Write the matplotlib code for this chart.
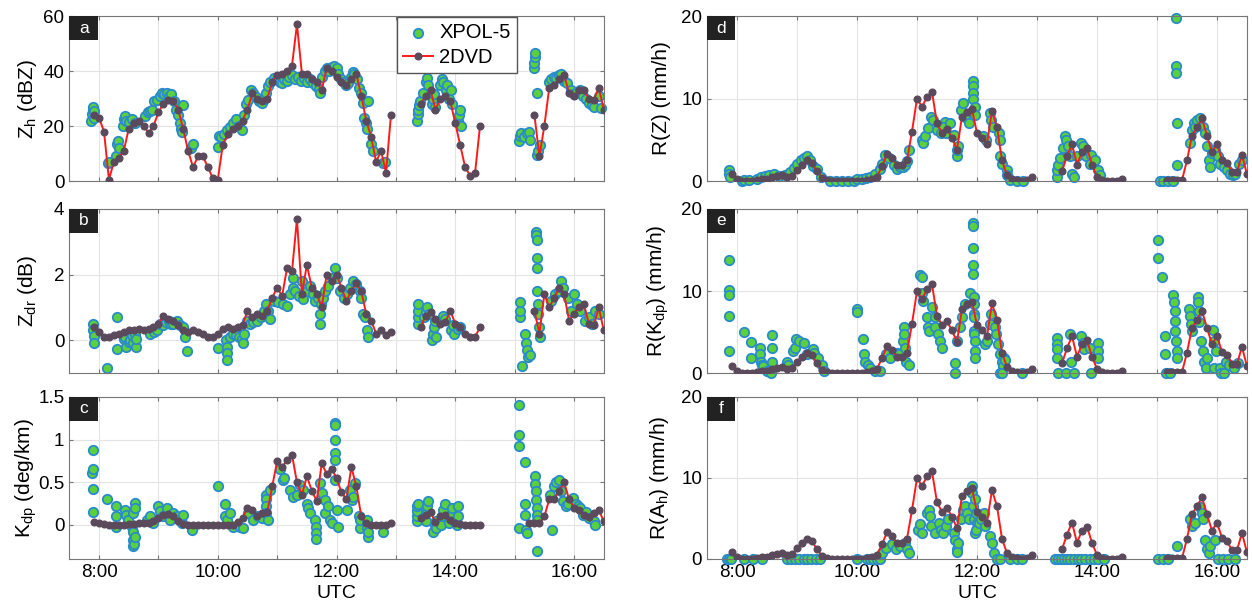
import numpy as np
import matplotlib
matplotlib.use('Agg')
import matplotlib.pyplot as plt
from matplotlib.patches import Rectangle

plt.rcParams['font.family'] = ['Liberation Sans', 'DejaVu Sans']
plt.rcParams['mathtext.default'] = 'regular'

# 2DVD samples, minutes after midnight (three rain periods)
dvd_min = np.concatenate([np.arange(475, 776, 5), np.arange(805, 866, 5), np.arange(910, 991, 5)])

dvd_zh = [24, 23, 18, 0.5, 7, 8.5, 11, 19, 21, 22, 20, 17.5, 20, 25,
          28, 29.5, 29, 26, 19, 11, 5, 9, 9, 5, 1, 0.5,
          13, 17, 19, 20, 22, 26, 32, 30, 29, 30, 36, 38.5,
          39, 40, 42, 57, 39, 39, 37, 36, 33, 41, 40, 38,
          36, 35, 37, 39, 31, 22, 16, 7, 11, 3, 24,
          28, 31, 33, 26, 30, 31, 29, 21, 13, 5, 2, 3, 20,
          None, None, 24, 9, 20, 34, 35, 37, 38.5, 32, 31, 33, 33, 30, 29.5, 34, 26]

dvd_zdr = [0.4, 0.25, 0.1, 0.1, 0.15, 0.2, 0.25, 0.3, 0.3, 0.35, 0.3, 0.35, 0.4, 0.5,
           0.75, 0.65, 0.6, 0.45, 0.3, 0.25, 0.3, 0.25, 0.2, 0.1, 0.1, 0.2,
           0.35, 0.4, 0.35, 0.4, 0.45, 0.9, 0.7, 0.8, 0.75, 0.9, 1.3, 1.6,
           1.35, 2.2, 2.1, 3.7, 1.4, 2.3, 1.6, 1.4, 1.0, 2.0, 1.8, 2.0,
           1.6, 1.2, 1.5, 1.75, 1.5, 0.8, 0.6, 0.2, 0.3, 0.15, 0.25,
           0.4, 0.75, 0.85, 0.65, 0.5, 0.55, 0.9, 0.5, 0.4, 0.2, 0.1, 0.1, 0.4,
           None, None, 0.9, 0.2, 1.4, 1.0, 1.3, 1.6, 1.4, 0.6, 0.8, 1.0, 1.1, 0.5, 0.45, 1.0, 0.3]

dvd_kdp = [0.03, 0.02, 0.01, 0.0, 0.0, 0.0, 0.0, 0.01, 0.01, 0.02, 0.02, 0.02, 0.04, 0.08,
           0.12, 0.13, 0.1, 0.05, 0.01, 0.0, 0.0, 0.0, 0.0, 0.0, 0.0, 0.0,
           0.0, 0.0, 0.0, 0.03, 0.08, 0.2, 0.17, 0.1, 0.14, 0.15, 0.45, 0.75,
           0.68, 0.76, 0.82, 0.5, 0.35, 0.57, 0.4, 0.28, 0.72, 0.6, 0.66, 0.55,
           0.38, 0.3, 0.68, 0.45, 0.1, 0.02, 0.0, 0.0, 0.0, 0.0, 0.02,
           0.08, 0.12, 0.15, 0.03, 0.1, 0.12, 0.06, 0.02, 0.01, 0.0, 0.0, 0.0, 0.0,
           None, 0.02, 0.02, 0.02, 0.1, 0.3, 0.3, 0.4, 0.5, 0.3, 0.2, 0.18, 0.12, 0.09, 0.14, 0.18, 0.04]

# 2DVD rain rate, same curve in panels d, e, f
dvd_rain = [0.9, 0.3, 0.0, 0.0, 0.0, 0.1, 0.2, 0.3, 0.5, 0.6, 0.7, 0.5, 0.6, 1.3,
            2.0, 2.5, 2.2, 1.2, 0.4, 0.1, 0.0, 0.0, 0.0, 0.0, 0.0, 0.0,
            0.05, 0.1, 0.3, 0.5, 1.8, 3.3, 2.8, 2.0, 2.0, 2.5, 6.0, 10.0,
            9.0, 10.2, 10.8, 7.0, 5.8, 6.3, 5.2, 3.8, 7.8, 8.4, 8.7, 5.8,
            5.2, 4.5, 8.5, 6.5, 2.5, 0.7, 0.3, 0.1, 0.0, 0.1, 0.5,
            1.2, 3.0, 4.5, 2.0, 3.5, 4.0, 2.0, 0.5, 0.1, 0.0, 0.0, 0.0, 0.2,
            0.1, 0.1, 0.1, 0.1, 2.5, 5.5, 6.5, 7.6, 5.5, 3.5, 4.5, 2.6, 2.2, 1.1, 1.1, 3.2, 0.8]

# XPOL-5 (time in hours, value)
xpol_zh = [(7.87, 22), (7.88, 24.5), (7.89, 26), (7.90, 27), (7.91, 25.5), (7.92, 23),
           (8.15, 6.5), (8.17, 7), (8.29, 9), (8.31, 13.5), (8.32, 14.5), (8.34, 12),
           (8.40, 20), (8.42, 22.5), (8.44, 23.5), (8.46, 22), (8.50, 21.5), (8.55, 22.5), (8.60, 21),
           (8.78, 23.5), (8.82, 25), (8.86, 25.5), (8.90, 26), (8.93, 29), (8.97, 29.5),
           (9.02, 31), (9.06, 32), (9.10, 31.5), (9.14, 32), (9.18, 31), (9.22, 31.5), (9.26, 29),
           (9.30, 26), (9.33, 24), (9.36, 21), (9.38, 19), (9.40, 18), (9.42, 27.5), (9.55, 12), (9.58, 13.5),
           (10.00, 12.5), (10.02, 16.5), (10.06, 16), (10.10, 17), (10.15, 18.5), (10.20, 19.5), (10.25, 21),
           (10.30, 22.5), (10.35, 20), (10.40, 18.5), (10.44, 24), (10.48, 28), (10.51, 29.5),
           (10.56, 33), (10.60, 32), (10.65, 30.5), (10.70, 29), (10.74, 28.5), (10.78, 30), (10.82, 32),
           (10.85, 34.5), (10.88, 36), (10.95, 37.5), (11.00, 37), (11.05, 36), (11.08, 35.5), (11.12, 37),
           (11.16, 36.5), (11.20, 38), (11.25, 38.5), (11.30, 37), (11.35, 38), (11.40, 36.5), (11.45, 37.5),
           (11.50, 36), (11.55, 37), (11.60, 35.5), (11.65, 34.5), (11.70, 33.5), (11.72, 32),
           (11.76, 38), (11.80, 40), (11.84, 41), (11.88, 40), (11.92, 41.5), (11.96, 42), (12.00, 41), (12.03, 39),
           (12.08, 37), (12.12, 36), (12.16, 35), (12.20, 35.5), (12.24, 38), (12.27, 39.5), (12.30, 39),
           (12.34, 37), (12.38, 34), (12.42, 32), (12.45, 28.5), (12.47, 23), (12.49, 21), (12.51, 19),
           (12.53, 29), (12.58, 13.5), (12.62, 11), (12.78, 6.5), (12.82, 7),
           (13.36, 22), (13.37, 24.5), (13.38, 26), (13.39, 27.5), (13.40, 29),
           (13.46, 32), (13.50, 36), (13.52, 37.5), (13.54, 35), (13.60, 28), (13.62, 30), (13.64, 31.5), (13.66, 27),
           (13.74, 35), (13.78, 37), (13.80, 36), (13.84, 33), (13.86, 35), (13.90, 30), (13.92, 33), (13.94, 28),
           (14.04, 22), (14.06, 24), (14.08, 26), (14.10, 20),
           (15.08, 14.5), (15.09, 16.5), (15.10, 17.5), (15.16, 16), (15.20, 17.5), (15.24, 18), (15.26, 15),
           (15.33, 41), (15.33, 43), (15.34, 45), (15.34, 46.5), (15.38, 32), (15.38, 9.5), (15.40, 11), (15.42, 13),
           (15.58, 36), (15.62, 37), (15.66, 38), (15.70, 37.5), (15.74, 38.5), (15.78, 39), (15.83, 36.5), (15.88, 35.5),
           (15.95, 33), (16.00, 31.5), (16.05, 32.5), (16.10, 33), (16.15, 31), (16.20, 30), (16.25, 28.5),
           (16.30, 27.5), (16.34, 27), (16.42, 31), (16.45, 26.5)]

xpol_zdr = [(7.90, 0.5), (7.90, 0.3), (7.91, 0.13), (7.91, -0.1), (8.14, -0.84), (8.30, 0.7), (8.31, -0.27),
            (8.42, 0.05), (8.44, 0.1), (8.46, -0.2), (8.50, -0.05), (8.52, 0.0), (8.55, 0.15), (8.58, -0.1),
            (8.60, 0.2), (8.62, -0.2), (8.63, 0.05),
            (8.86, 0.2), (8.92, 0.25), (8.97, 0.3), (9.03, 0.5), (9.08, 0.45), (9.12, 0.55), (9.17, 0.6),
            (9.21, 0.5), (9.25, 0.5), (9.31, 0.6), (9.36, 0.45), (9.42, 0.4), (9.45, 0.1), (9.48, -0.33),
            (10.01, -0.25), (10.13, 0.0), (10.15, -0.2), (10.15, -0.4), (10.16, -0.6), (10.21, 0.1), (10.26, 0.2),
            (10.30, 0.15), (10.35, 0.1), (10.40, 0.05), (10.43, -0.1), (10.44, 0.2),
            (10.49, 0.6), (10.54, 0.5), (10.60, 0.55), (10.66, 0.6), (10.72, 0.7), (10.78, 0.9), (10.82, 1.1),
            (10.85, 0.9), (10.88, 0.65), (10.95, 1.2), (11.02, 1.15), (11.10, 1.1), (11.16, 1.05), (11.22, 1.4),
            (11.26, 1.9), (11.27, 1.6), (11.30, 1.5), (11.36, 1.35), (11.41, 1.8), (11.44, 1.25), (11.50, 1.5),
            (11.55, 1.65), (11.60, 1.4), (11.64, 1.2), (11.68, 1.3), (11.72, 0.5), (11.72, 0.8), (11.73, 1.1),
            (11.77, 1.3), (11.80, 1.5), (11.86, 1.65), (11.92, 1.9), (11.97, 2.2), (12.00, 1.9), (12.06, 1.5),
            (12.12, 1.3), (12.18, 1.4), (12.23, 1.6), (12.28, 1.8), (12.33, 1.7), (12.39, 1.5), (12.42, 1.3),
            (12.45, 0.8), (12.48, 0.7), (12.51, 0.3), (12.53, 0.1),
            (13.37, 0.5), (13.37, 0.7), (13.38, 0.9), (13.38, 1.1), (13.48, 0.7), (13.50, 0.85), (13.52, 1.0),
            (13.55, 0.8), (13.61, 0.0), (13.62, 0.2), (13.64, 0.4), (13.66, 0.6), (13.68, 0.1),
            (13.76, 0.6), (13.79, 0.75), (13.82, 0.65), (13.92, 0.3), (13.96, 0.45), (13.98, 0.2), (14.05, 0.35), (14.08, 0.4),
            (15.09, 0.7), (15.09, 0.9), (15.09, 1.15), (15.12, -0.8), (15.17, 0.2), (15.19, -0.1), (15.21, -0.3),
            (15.23, -0.5), (15.26, -0.45), (15.36, 3.3), (15.36, 3.2), (15.37, 3.05), (15.37, 2.5), (15.38, 2.2),
            (15.38, 1.5), (15.39, 1.1), (15.40, 0.8), (15.41, 0.4), (15.42, 0.1),
            (15.62, 1.2), (15.68, 1.4), (15.74, 1.5), (15.78, 1.8), (15.82, 1.6), (15.90, 1.3), (15.95, 0.9),
            (16.00, 1.4), (16.05, 1.1), (16.10, 0.9), (16.18, 0.6), (16.25, 0.7), (16.30, 0.5), (16.35, 0.9), (16.42, 0.8)]

xpol_kdp = [(7.88, 0.61), (7.90, 0.65), (7.90, 0.88), (7.90, 0.42), (7.90, 0.15), (8.14, 0.3),
            (8.29, 0.22), (8.29, 0.1), (8.29, -0.02), (8.44, 0.18), (8.46, 0.12), (8.49, 0.06), (8.55, -0.02),
            (8.58, 0.14), (8.61, 0.26), (8.61, 0.2), (8.58, -0.08), (8.58, -0.18), (8.58, -0.25), (8.59, -0.22),
            (8.61, -0.14), (8.80, 0.06), (8.86, 0.1), (8.91, 0.02), (9.00, 0.22), (9.03, 0.16), (9.08, 0.1),
            (9.14, 0.2), (9.20, 0.06), (9.25, 0.14), (9.31, 0.1), (9.39, 0.02), (9.42, 0.12), (9.56, -0.06),
            (10.01, 0.46), (10.12, 0.25), (10.12, 0.1), (10.15, 0.06), (10.21, 0.14), (10.26, -0.02),
            (10.37, -0.02), (10.43, -0.04), (10.51, 0.14), (10.60, 0.06), (10.68, 0.1), (10.74, 0.08),
            (10.82, 0.35), (10.82, 0.3), (10.82, 0.22), (10.82, 0.14), (10.85, 0.06), (10.88, 0.41),
            (11.05, 0.65), (11.10, 0.53), (11.12, 0.55), (11.22, 0.41), (11.27, 0.33), (11.33, 0.35),
            (11.38, 0.47), (11.44, 0.41), (11.50, 0.25), (11.52, 0.2), (11.55, 0.14), (11.64, 0.06),
            (11.66, -0.02), (11.66, -0.1), (11.66, -0.16), (11.72, 0.49), (11.75, 0.37), (11.80, 0.29),
            (11.80, 0.14), (11.86, 0.22), (11.89, 0.06), (11.92, 0.02), (11.97, 1.19), (11.97, 1.17),
            (11.97, 1.0), (11.97, 0.84), (11.97, 0.76), (11.98, 0.53), (12.00, 0.18), (12.03, -0.02),
            (12.17, 0.18), (12.23, 0.41), (12.26, 0.29), (12.28, 0.33), (12.31, 0.49), (12.37, 0.1),
            (12.39, -0.04), (12.40, 0.06), (12.51, 0.06), (12.51, -0.04), (12.53, -0.14), (12.53, -0.08), (12.79, -0.08),
            (13.35, 0.04), (13.35, 0.1), (13.36, 0.16), (13.36, 0.22), (13.37, 0.25), (13.50, 0.05), (13.52, 0.15),
            (13.53, 0.22), (13.54, 0.28), (13.63, -0.08), (13.65, 0.0), (13.67, 0.05), (13.68, -0.04),
            (13.76, 0.0), (13.78, 0.1), (13.80, 0.18), (13.82, 0.25), (13.90, 0.02), (13.92, 0.1), (13.95, 0.2),
            (13.97, 0.05), (14.03, 0.0), (14.04, 0.1), (14.05, 0.22),
            (15.07, 1.4), (15.08, 1.05), (15.08, 0.92), (15.08, -0.04), (15.17, 0.74), (15.18, 0.25), (15.18, 0.12),
            (15.19, -0.06), (15.21, -0.1), (15.35, 0.57), (15.35, 0.48), (15.36, 0.4), (15.36, 0.29), (15.37, 0.2),
            (15.37, 0.12), (15.38, 0.06), (15.38, -0.31), (15.63, -0.06), (15.60, 0.35), (15.66, 0.45),
            (15.70, 0.5), (15.74, 0.53), (15.78, 0.4), (15.82, 0.28), (15.86, 0.22), (15.90, 0.25),
            (15.99, 0.31), (16.03, 0.25), (16.06, 0.22), (16.10, 0.2), (16.15, 0.12), (16.20, 0.15),
            (16.26, 0.08), (16.33, 0.05), (16.35, 0.0)]

xpol_rz = [(7.86, 1.3), (7.87, 0.9), (7.88, 0.5), (8.08, 0.0), (8.12, 0.1), (8.20, 0.1), (8.33, 0.3),
           (8.40, 0.5), (8.47, 0.6), (8.54, 0.7), (8.61, 0.9), (8.70, 0.6), (8.80, 0.7), (8.88, 1.1),
           (8.95, 1.6), (9.00, 2.1), (9.06, 2.5), (9.11, 2.8), (9.16, 3.0), (9.22, 2.5), (9.27, 1.8),
           (9.33, 1.5), (9.40, 0.5), (9.55, 0.0), (9.65, 0.0), (9.75, 0.0), (9.85, 0.0), (9.95, 0.0),
           (10.00, 0.3), (10.08, 0.3), (10.15, 0.4), (10.22, 0.5), (10.30, 0.9), (10.38, 1.5), (10.41, 2.1),
           (10.47, 3.2), (10.53, 2.8), (10.61, 1.9), (10.66, 1.5), (10.72, 1.7), (10.77, 1.7), (10.80, 1.9),
           (10.83, 2.4), (10.86, 3.8), (11.08, 5.0), (11.10, 4.6), (11.13, 5.4), (11.19, 6.4), (11.24, 7.8),
           (11.27, 7.4), (11.33, 6.2), (11.40, 5.8), (11.47, 7.2), (11.44, 6.6), (11.49, 5.8), (11.55, 7.0),
           (11.61, 5.6), (11.66, 3.0), (11.66, 3.8), (11.69, 4.2), (11.74, 8.6), (11.77, 9.4), (11.80, 7.8),
           (11.86, 7.0), (11.91, 8.4), (11.94, 12.1), (11.94, 11.5), (11.94, 10.7), (11.94, 9.9), (11.97, 9.0),
           (11.97, 8.0), (12.10, 5.5), (12.15, 5.0), (12.22, 8.2), (12.24, 7.4), (12.27, 6.6), (12.36, 5.8),
           (12.38, 5.0), (12.38, 3.0), (12.41, 2.1), (12.50, 1.3), (12.50, 0.7), (12.55, 0.1), (12.66, 0.0), (12.77, 0.0),
           (13.33, 0.5), (13.33, 1.3), (13.35, 1.9), (13.38, 2.8), (13.44, 4.0), (13.47, 5.4), (13.49, 5.0),
           (13.52, 4.2), (13.55, 3.0), (13.58, 0.9), (13.61, 0.5), (13.66, 3.0), (13.74, 4.6), (13.77, 4.2),
           (13.82, 3.0), (13.88, 2.1), (13.90, 3.2), (13.96, 2.5), (14.02, 1.3), (14.05, 0.7),
           (15.05, 0.0), (15.10, 0.0), (15.19, 0.0), (15.27, 0.0), (15.32, 19.8), (15.32, 13.9), (15.32, 13.1),
           (15.33, 7.0), (15.34, 1.9), (15.55, 4.6), (15.58, 6.2), (15.61, 7.0), (15.63, 6.6), (15.66, 7.4),
           (15.72, 7.6), (15.77, 6.6), (15.80, 5.8), (15.83, 4.2), (15.86, 2.5), (15.88, 1.7), (15.91, 3.4),
           (15.97, 3.8), (16.02, 3.0), (16.05, 2.1), (16.11, 1.7), (16.16, 1.3), (16.22, 0.9), (16.27, 0.7),
           (16.30, 0.9), (16.36, 2.1), (16.41, 2.5)]

xpol_rkdp = [(7.86, 13.8), (7.86, 10.1), (7.86, 9.5), (7.87, 7.0), (7.87, 2.7), (8.11, 5.0), (8.24, 3.8),
             (8.24, 1.85), (8.38, 3.0), (8.38, 2.3), (8.40, 1.4), (8.41, 1.0), (8.43, 0.8), (8.50, 0.2),
             (8.58, 4.6), (8.58, 3.1), (8.58, 1.4), (8.57, 0.0), (8.83, 1.4), (8.85, 1.0), (8.94, 2.7),
             (8.96, 3.1), (8.99, 4.2), (9.04, 3.9), (9.11, 3.7), (9.16, 2.3), (9.27, 2.9), (9.29, 2.5),
             (9.35, 1.85), (9.41, 1.0), (9.45, 0.2), (10.00, 7.8), (10.00, 7.4), (10.10, 4.2), (10.11, 2.3),
             (10.13, 1.4), (10.19, 1.0), (10.22, 0.6), (10.30, 0.2), (10.38, 0.2), (10.49, 2.3), (10.55, 1.85),
             (10.66, 2.5), (10.70, 2.3), (10.77, 3.9), (10.78, 5.6), (10.79, 4.7), (10.80, 3.1), (10.82, 1.4),
             (10.86, 1.0), (11.05, 11.9), (11.08, 11.7), (11.09, 9.7), (11.10, 8.8), (11.16, 6.8), (11.18, 5.6),
             (11.20, 5.1), (11.25, 8.0), (11.30, 6.8), (11.30, 5.6), (11.35, 4.7), (11.38, 3.9), (11.41, 3.1),
             (11.63, 1.2), (11.63, 0.0), (11.66, 3.9), (11.72, 5.6), (11.75, 6.8), (11.80, 8.4), (11.88, 9.7),
             (11.94, 18.3), (11.94, 17.9), (11.94, 15.2), (11.94, 13.2), (11.94, 12.1), (11.95, 9.3), (11.95, 8.4),
             (11.95, 7.2), (11.95, 6.8), (11.95, 5.1), (11.95, 4.7), (11.96, 3.9), (11.96, 2.7), (11.97, 1.85),
             (12.13, 3.5), (12.16, 3.9), (12.22, 6.0), (12.24, 7.2), (12.30, 5.6), (12.32, 4.7), (12.35, 3.5),
             (12.38, 2.3), (12.41, 1.4), (12.44, 0.8), (12.45, 1.85), (12.47, 1.6), (12.38, 0.0), (12.42, 0.0), (12.75, 0.0),
             (13.33, 4.3), (13.33, 3.5), (13.34, 2.9), (13.34, 1.85), (13.35, 0.0), (13.49, 0.0), (13.55, 4.7),
             (13.57, 1.4), (13.61, 0.0), (13.74, 4.5), (13.76, 3.7), (13.78, 2.9), (13.88, 3.1), (13.90, 0.0),
             (14.02, 3.7), (14.02, 2.7), (14.02, 1.85),
             (15.02, 16.2), (15.02, 14.0), (15.08, 11.7), (15.13, 4.5), (15.13, 2.3), (15.15, 0.0), (15.22, 0.0),
             (15.27, 9.5), (15.29, 8.6), (15.30, 7.6), (15.30, 6.4), (15.30, 5.1), (15.31, 3.9), (15.33, 2.7),
             (15.33, 1.85), (15.53, 7.8), (15.55, 7.0), (15.57, 6.0), (15.59, 5.1), (15.68, 9.3), (15.68, 8.6),
             (15.70, 7.6), (15.70, 6.2), (15.74, 3.9), (15.76, 2.7), (15.79, 1.4), (15.81, 0.6), (15.84, 1.85),
             (15.93, 5.3), (15.95, 3.9), (15.95, 0.6), (15.98, 2.7), (16.05, 0.6), (16.07, 0.0), (16.11, 0.0),
             (16.15, 1.4), (16.20, 1.0), (16.28, 0.6), (16.35, 1.2)]

xpol_rah = [(7.83, 0.0), (7.86, 0.0), (7.90, 0.0), (8.11, 0.0), (8.27, 0.0), (8.41, 0.0), (8.83, 0.0),
            (8.90, 0.0), (8.97, 0.0), (9.04, 0.0), (9.11, 0.0), (9.17, 0.0), (9.24, 0.0), (9.31, 0.0), (9.38, 0.0),
            (10.00, 0.0), (10.16, 0.0), (10.22, 0.0), (10.27, 0.0), (10.33, 0.0), (10.38, 0.0), (10.41, 0.75),
            (10.49, 1.4), (10.58, 1.8), (10.65, 1.2), (10.72, 1.6), (10.80, 2.0), (10.83, 1.2), (10.86, 0.75),
            (11.02, 3.6), (11.05, 4.3), (11.08, 3.2), (11.16, 5.7), (11.20, 6.1), (11.22, 5.3), (11.24, 4.1),
            (11.30, 3.2), (11.36, 4.5), (11.40, 3.6), (11.44, 3.2), (11.49, 4.1), (11.52, 4.9), (11.61, 3.2),
            (11.63, 2.4), (11.66, 1.2), (11.66, 0.8), (11.69, 2.0), (11.74, 4.9), (11.77, 6.1), (11.80, 6.6),
            (11.83, 5.7), (11.86, 4.9), (11.91, 8.2), (11.92, 9.0), (11.93, 6.6), (11.95, 4.9), (11.97, 3.2),
            (11.96, 7.4), (11.98, 5.7), (12.00, 4.5), (11.99, 3.6), (12.03, 4.5), (12.06, 4.9), (12.11, 5.7),
            (12.14, 4.1), (12.22, 2.8), (12.25, 2.0), (12.28, 0.75), (12.33, 0.0), (12.38, 0.0), (12.55, 0.0),
            (12.66, 0.0), (12.75, 0.0),
            (13.30, 0.0), (13.35, 0.0), (13.40, 0.0), (13.45, 0.0), (13.50, 0.0), (13.55, 0.0), (13.62, 0.0),
            (13.68, 0.0), (13.74, 0.0), (13.80, 0.0), (13.88, 0.0), (13.95, 0.0), (14.02, 0.0), (14.11, 0.0),
            (15.02, 0.0), (15.10, 0.0), (15.19, 0.0), (15.33, 1.6), (15.55, 4.9), (15.58, 4.1), (15.63, 4.5),
            (15.72, 6.4), (15.75, 5.7), (15.77, 4.9), (15.80, 2.4), (15.83, 1.2), (15.86, 0.75), (15.88, 1.6),
            (15.97, 2.4), (16.02, 0.0), (16.10, 0.0), (16.19, 0.0), (16.30, 0.0)]

hour_ticks = [8, 9, 10, 11, 12, 13, 14, 15, 16]
hour_labels = ['8:00', '', '10:00', '', '12:00', '', '14:00', '', '16:00']

panels = [
    ('a', xpol_zh, dvd_zh, r'Z$_{h}$ (dBZ)', (0, 60), [0, 20, 40, 60], ['0', '20', '40', '60']),
    ('b', xpol_zdr, dvd_zdr, r'Z$_{dr}$ (dB)', (-1, 4), [0, 2, 4], ['0', '2', '4']),
    ('c', xpol_kdp, dvd_kdp, r'K$_{dp}$ (deg/km)', (-0.4, 1.5), [0, 0.5, 1, 1.5], ['0', '0.5', '1', '1.5']),
    ('d', xpol_rz, dvd_rain, 'R(Z) (mm/h)', (0, 20), [0, 10, 20], ['0', '10', '20']),
    ('e', xpol_rkdp, dvd_rain, r'R(K$_{dp}$) (mm/h)', (0, 20), [0, 10, 20], ['0', '10', '20']),
    ('f', xpol_rah, dvd_rain, r'R(A$_{h}$) (mm/h)', (0, 20), [0, 10, 20], ['0', '10', '20']),
]

col_x = [(0.0554, 0.4268), (0.5647, 0.4313)]
row_y = [(0.6998, 0.2736), (0.3814, 0.2720), (0.0730, 0.2687)]

fig = plt.figure(figsize=(12.52, 6.03), dpi=100)

for i, (letter, xp, dv, ylab, ylim, yt, ytl) in enumerate(panels):
    col, row = i // 3, i % 3
    ax = fig.add_axes([col_x[col][0], row_y[row][0], col_x[col][1], row_y[row][1]])

    xp = np.array(xp, dtype=float)
    ax.scatter(xp[:, 0], xp[:, 1], s=46, c='#5ad13c', edgecolors='#2a8bcc',
               linewidths=1.3, zorder=2, clip_on=False, label='XPOL-5')

    t = dvd_min / 60.0
    v = np.array(dv, dtype=float)
    ok = ~np.isnan(v)
    t, v = t[ok], v[ok]
    cuts = np.where(np.diff(t) > 0.3)[0] + 1
    for k, (tt, vv) in enumerate(zip(np.split(t, cuts), np.split(v, cuts))):
        ax.plot(tt, vv, '-', color='#ff1a1a', lw=1.4, marker='o', ms=4.8,
                mfc='#5b4a5c', mec='#5b4a5c', zorder=3, label='2DVD' if k == 0 else None)

    ax.set_xlim(7.5, 16.5)
    ax.set_ylim(*ylim)
    ax.set_yticks(yt)
    ax.set_yticklabels(ytl)
    ax.set_xticks(hour_ticks)
    if row == 2:
        ax.set_xticklabels(hour_labels)
        cx = col_x[col][0] + col_x[col][1] / 2
        fig.text(cx, 1 - 585 / 603.0, 'UTC', fontsize=14, ha='center', va='top')
    else:
        ax.set_xticklabels([''] * len(hour_ticks))
    ax.tick_params(direction='in', length=3, top=True, right=True, labelsize=13.5,
                   color='#777777', pad=3.5)
    ax.grid(True, color='#e4e4e4', lw=0.8)
    ax.set_axisbelow(True)
    for s in ax.spines.values():
        s.set_color('#777777')
        s.set_linewidth(0.8)
    ax.set_ylabel(ylab, fontsize=15)
    ax.yaxis.set_label_coords(-0.056 if col == 0 else -0.066, 0.5)

    bw = 29 / 534.0 if col == 0 else 28 / 540.0
    bh = 24 / (row_y[row][1] * 603)
    ax.add_patch(Rectangle((0, 1 - bh), bw, bh, transform=ax.transAxes,
                           facecolor='#222222', edgecolor='none', zorder=5, clip_on=False))
    ax.text(bw / 2, 1 - bh / 2, letter, transform=ax.transAxes, color='white',
            fontsize=12.5, ha='center', va='center', zorder=6)

    if letter == 'a':
        ax.legend(loc='upper left', bbox_to_anchor=(0.613, 0.995), fontsize=14.5,
                  frameon=True, fancybox=False, edgecolor='#555555', framealpha=1,
                  handlelength=1.5, handletextpad=0.3, borderpad=0.3, labelspacing=0.3,
                  borderaxespad=0)

fig.savefig('out.png', dpi=100)
